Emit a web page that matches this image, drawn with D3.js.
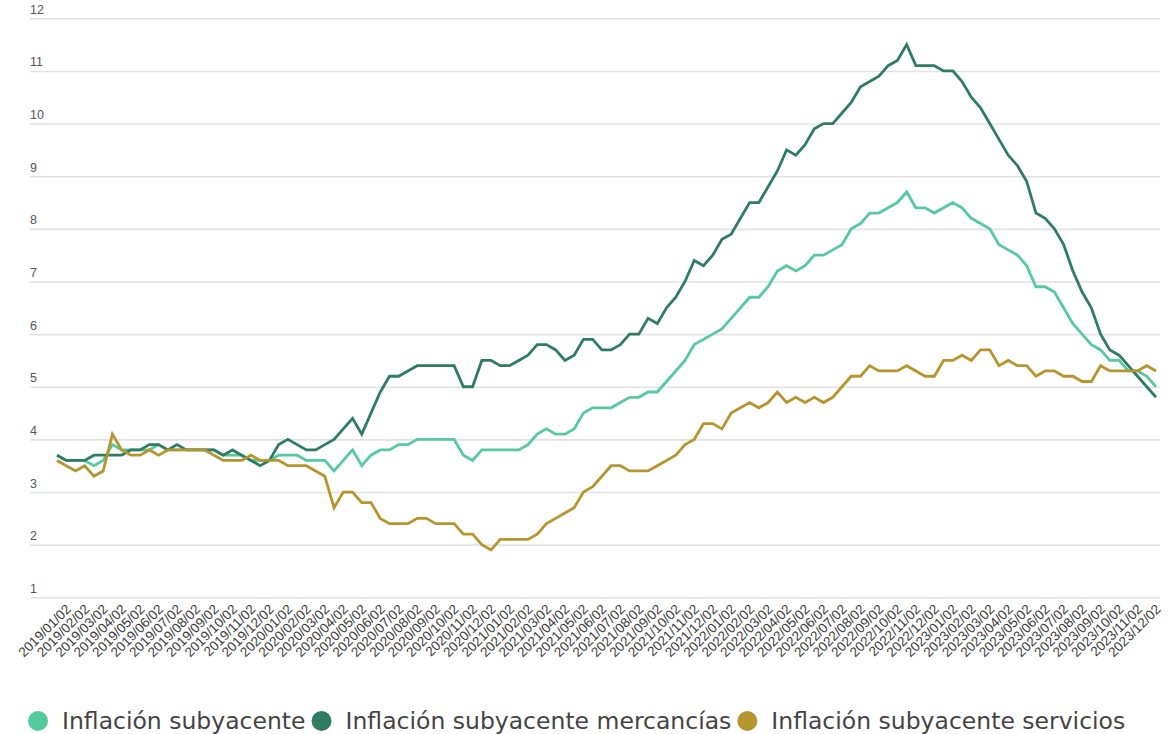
<!DOCTYPE html>
<html>
<head>
<meta charset="utf-8">
<script src="https://cdn.jsdelivr.net/npm/d3@7"></script>
<style>
  html, body { margin: 0; padding: 0; background: #fff; }
  svg { display: block; font-family: "DejaVu Sans", sans-serif; }
</style>
</head>
<body>
<svg id="chart" width="1174" height="734"></svg>
<script>
// Monthly tick labels (second fortnight of each month)
const tickLabels = [
  "2019/01/02","2019/02/02","2019/03/02","2019/04/02","2019/05/02","2019/06/02",
  "2019/07/02","2019/08/02","2019/09/02","2019/10/02","2019/11/02","2019/12/02",
  "2020/01/02","2020/02/02","2020/03/02","2020/04/02","2020/05/02","2020/06/02",
  "2020/07/02","2020/08/02","2020/09/02","2020/10/02","2020/11/02","2020/12/02",
  "2021/01/02","2021/02/02","2021/03/02","2021/04/02","2021/05/02","2021/06/02",
  "2021/07/02","2021/08/02","2021/09/02","2021/10/02","2021/11/02","2021/12/02",
  "2022/01/02","2022/02/02","2022/03/02","2022/04/02","2022/05/02","2022/06/02",
  "2022/07/02","2022/08/02","2022/09/02","2022/10/02","2022/11/02","2022/12/02",
  "2023/01/02","2023/02/02","2023/03/02","2023/04/02","2023/05/02","2023/06/02",
  "2023/07/02","2023/08/02","2023/09/02","2023/10/02","2023/11/02","2023/12/02"
];

// Fortnightly categories: first and second fortnight of each month
const categories = tickLabels.flatMap(l => [l.slice(0, 8) + "01", l]);

const yTicks = [1, 2, 3, 4, 5, 6, 7, 8, 9, 10, 11, 12];

// Annual core inflation, % (fortnightly)
const subyacente = [
  3.7,3.6,3.6,3.6,3.5,3.6,3.9,3.8,3.8,3.8, 3.8,3.9,3.8,3.8,3.8,3.8,3.8,3.8,3.7,3.7,
  3.7,3.6,3.6,3.6,3.7,3.7,3.7,3.6,3.6,3.6, 3.4,3.6,3.8,3.5,3.7,3.8,3.8,3.9,3.9,4.0,
  4.0,4.0,4.0,4.0,3.7,3.6,3.8,3.8,3.8,3.8, 3.8,3.9,4.1,4.2,4.1,4.1,4.2,4.5,4.6,4.6,
  4.6,4.7,4.8,4.8,4.9,4.9,5.1,5.3,5.5,5.8, 5.9,6.0,6.1,6.3,6.5,6.7,6.7,6.9,7.2,7.3,
  7.2,7.3,7.5,7.5,7.6,7.7,8.0,8.1,8.3,8.3, 8.4,8.5,8.7,8.4,8.4,8.3,8.4,8.5,8.4,8.2,
  8.1,8.0,7.7,7.6,7.5,7.3,6.9,6.9,6.8,6.5, 6.2,6.0,5.8,5.7,5.5,5.5,5.3,5.3,5.2,5.0
];

// Core inflation, goods
const mercancias = [
  3.7,3.6,3.6,3.6,3.7,3.7,3.7,3.7,3.8,3.8, 3.9,3.9,3.8,3.9,3.8,3.8,3.8,3.8,3.7,3.8,
  3.7,3.6,3.5,3.6,3.9,4.0,3.9,3.8,3.8,3.9, 4.0,4.2,4.4,4.1,4.5,4.9,5.2,5.2,5.3,5.4,
  5.4,5.4,5.4,5.4,5.0,5.0,5.5,5.5,5.4,5.4, 5.5,5.6,5.8,5.8,5.7,5.5,5.6,5.9,5.9,5.7,
  5.7,5.8,6.0,6.0,6.3,6.2,6.5,6.7,7.0,7.4, 7.3,7.5,7.8,7.9,8.2,8.5,8.5,8.8,9.1,9.5,
  9.4,9.6,9.9,10.0,10.0,10.2,10.4,10.7,10.8,10.9, 11.1,11.2,11.5,11.1,11.1,11.1,11.0,11.0,10.8,10.5,
  10.3,10.0,9.7,9.4,9.2,8.9,8.3,8.2,8.0,7.7, 7.2,6.8,6.5,6.0,5.7,5.6,5.4,5.2,5.0,4.8
];

// Core inflation, services
const servicios = [
  3.6,3.5,3.4,3.5,3.3,3.4,4.1,3.8,3.7,3.7, 3.8,3.7,3.8,3.8,3.8,3.8,3.8,3.7,3.6,3.6,
  3.6,3.7,3.6,3.6,3.6,3.5,3.5,3.5,3.4,3.3, 2.7,3.0,3.0,2.8,2.8,2.5,2.4,2.4,2.4,2.5,
  2.5,2.4,2.4,2.4,2.2,2.2,2.0,1.9,2.1,2.1, 2.1,2.1,2.2,2.4,2.5,2.6,2.7,3.0,3.1,3.3,
  3.5,3.5,3.4,3.4,3.4,3.5,3.6,3.7,3.9,4.0, 4.3,4.3,4.2,4.5,4.6,4.7,4.6,4.7,4.9,4.7,
  4.8,4.7,4.8,4.7,4.8,5.0,5.2,5.2,5.4,5.3, 5.3,5.3,5.4,5.3,5.2,5.2,5.5,5.5,5.6,5.5,
  5.7,5.7,5.4,5.5,5.4,5.4,5.2,5.3,5.3,5.2, 5.2,5.1,5.1,5.4,5.3,5.3,5.3,5.3,5.4,5.3
];

const seriesNames = [
  "Inflación subyacente",
  "Inflación subyacente mercancías",
  "Inflación subyacente servicios"
];
const seriesValues = [subyacente, mercancias, servicios];
const seriesColors = ["#55c9a0", "#2f7c63", "#b6952f"];

const svg = d3.select("#chart");

const x = d3.scalePoint().domain(categories).range([57, 1156]);
const y = d3.scaleLinear().domain([1, 12]).range([597.3, 18.3]);

// Horizontal gridlines with labels sitting above them
const gridLeft = 30, gridRight = 1160;
const yAxis = svg.append("g")
  .attr("transform", `translate(${gridLeft},0)`)
  .call(d3.axisLeft(y).tickValues(yTicks).tickSize(-(gridRight - gridLeft)).tickFormat(d3.format("d")));
yAxis.select(".domain").remove();
yAxis.selectAll(".tick line")
  .attr("stroke", "#e2e2e2")
  .attr("stroke-width", 1.6);
yAxis.selectAll(".tick text")
  .attr("x", 0)
  .attr("dy", "-0.4em")
  .attr("text-anchor", "start")
  .attr("fill", "#555")
  .style("font-size", "12.5px");

// Rotated date labels
const xAxis = svg.append("g")
  .attr("transform", "translate(0,600)")
  .call(d3.axisBottom(x).tickValues(tickLabels).tickSize(0));
xAxis.select(".domain").remove();
xAxis.selectAll(".tick text")
  .attr("x", 0).attr("y", 0).attr("dy", 0)
  .attr("transform", "translate(5,10) rotate(-45)")
  .attr("text-anchor", "end")
  .attr("fill", "#3a3a3a")
  .style("font-size", "13.5px");

// Lines
const line = d3.line()
  .x((d, i) => x(categories[i]))
  .y(d => y(d));

svg.append("g")
  .selectAll("path")
  .data(seriesValues)
  .join("path")
  .attr("d", line)
  .attr("fill", "none")
  .attr("stroke", (d, i) => seriesColors[i])
  .attr("stroke-width", 2.8)
  .attr("stroke-linejoin", "miter")
  .attr("stroke-linecap", "butt");

// Legend
const legend = svg.append("g").attr("transform", "translate(0,721)");
let cursor = 28;
seriesNames.forEach((name, i) => {
  const item = legend.append("g");
  item.append("circle")
    .attr("cx", cursor + 10)
    .attr("cy", 0)
    .attr("r", 10)
    .attr("fill", seriesColors[i]);
  const t = item.append("text")
    .attr("x", cursor + 34)
    .attr("y", 0)
    .attr("dy", "0.35em")
    .attr("fill", "#444")
    .style("font-size", "23.5px")
    .text(name);
  cursor += 34 + t.node().getComputedTextLength() + 6;
});
</script>
</body>
</html>
